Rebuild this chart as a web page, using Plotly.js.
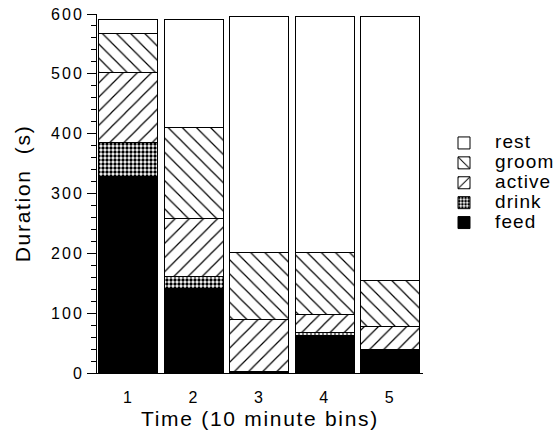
<!DOCTYPE html>
<html><head><meta charset="utf-8">
<script src="https://cdn.plot.ly/plotly-3.0.1.min.js"></script>
<style>
body{margin:0;background:#fff}
#chart .xtitle, #chart .ytitle {letter-spacing:1.7px}
#chart .xtick text, #chart .ytick text {letter-spacing:2px}
#chart .legendtext {font-size:19px !important; letter-spacing:1.1px}
#chart .legend .scrollbox {clip-path:none !important}
</style>
</head><body>
<div id="chart" style="width:559px;height:437px"></div>
<script>
const bins = ['1','2','3','4','5'];
const feed   = [328, 142, 3, 63, 40];
const drink  = [57, 19, 0, 4, 0];
const active = [117, 97, 86, 31, 37];
const groom  = [65, 153, 113, 104, 77];
const rest   = [23, 179, 393, 394, 442];
const seriesNames = ['feed','drink','active','groom','rest'];

const line = {color:'#000', width:1};
function tr(name, y, fill, pattern){
  const m = {color: fill, line: line};
  if (pattern) m.pattern = pattern;
  return {type:'bar', name:name, x:bins, y:y, marker:m, hoverinfo:'y'};
}
const data = [
  tr(seriesNames[0], feed, '#000'),
  tr(seriesNames[1], drink, '#fff', {shape:'.', size:4, solidity:0.55, fgcolor:'#000', bgcolor:'#fff', fillmode:'replace'}),
  tr(seriesNames[2], active, '#fff', {shape:'/', size:10, solidity:0.12, fgcolor:'#000', bgcolor:'#fff', fillmode:'replace'}),
  tr(seriesNames[3], groom, '#fff', {shape:'\\', size:10, solidity:0.12, fgcolor:'#000', bgcolor:'#fff', fillmode:'replace'}),
  tr(seriesNames[4], rest, '#fff')
];
const fontFam = 'Liberation Sans, Arial, Helvetica, sans-serif';
const layout = {
  width:559, height:437,
  margin:{l:97, r:136, t:14, b:64},
  barmode:'stack', bargap:0.1,
  paper_bgcolor:'#fff', plot_bgcolor:'#fff',
  font:{family:fontFam, color:'#000', size:16},
  showlegend:true,
  legend:{x:(433-97)/326, y:(373-128)/359, xanchor:'left', yanchor:'top', traceorder:'reversed',
          font:{size:13}, bgcolor:'rgba(0,0,0,0)', tracegroupgap:0, itemwidth:52},
  xaxis:{type:'category', range:[-0.48, 4.5], showgrid:false, zeroline:false,
         showline:true, linecolor:'#000', linewidth:1, ticks:'',
         tickfont:{size:16}, ticklabelstandoff:10,
         title:{text:'Time (10 minute bins)', font:{size:21}, standoff:6}},
  yaxis:{range:[0,600], dtick:100, showgrid:false, zeroline:false,
         showline:true, linecolor:'#000', linewidth:1,
         ticks:'outside', ticklen:9, tickwidth:1, tickcolor:'#000',
         minor:{dtick:20, ticks:'outside', ticklen:5, tickcolor:'#000'},
         tickfont:{size:16},
         title:{text:'Duration  (s)', font:{size:21}, standoff:20}}
};
Plotly.newPlot('chart', data, layout, {displayModeBar:false, staticPlot:true});
</script>
</body></html>
